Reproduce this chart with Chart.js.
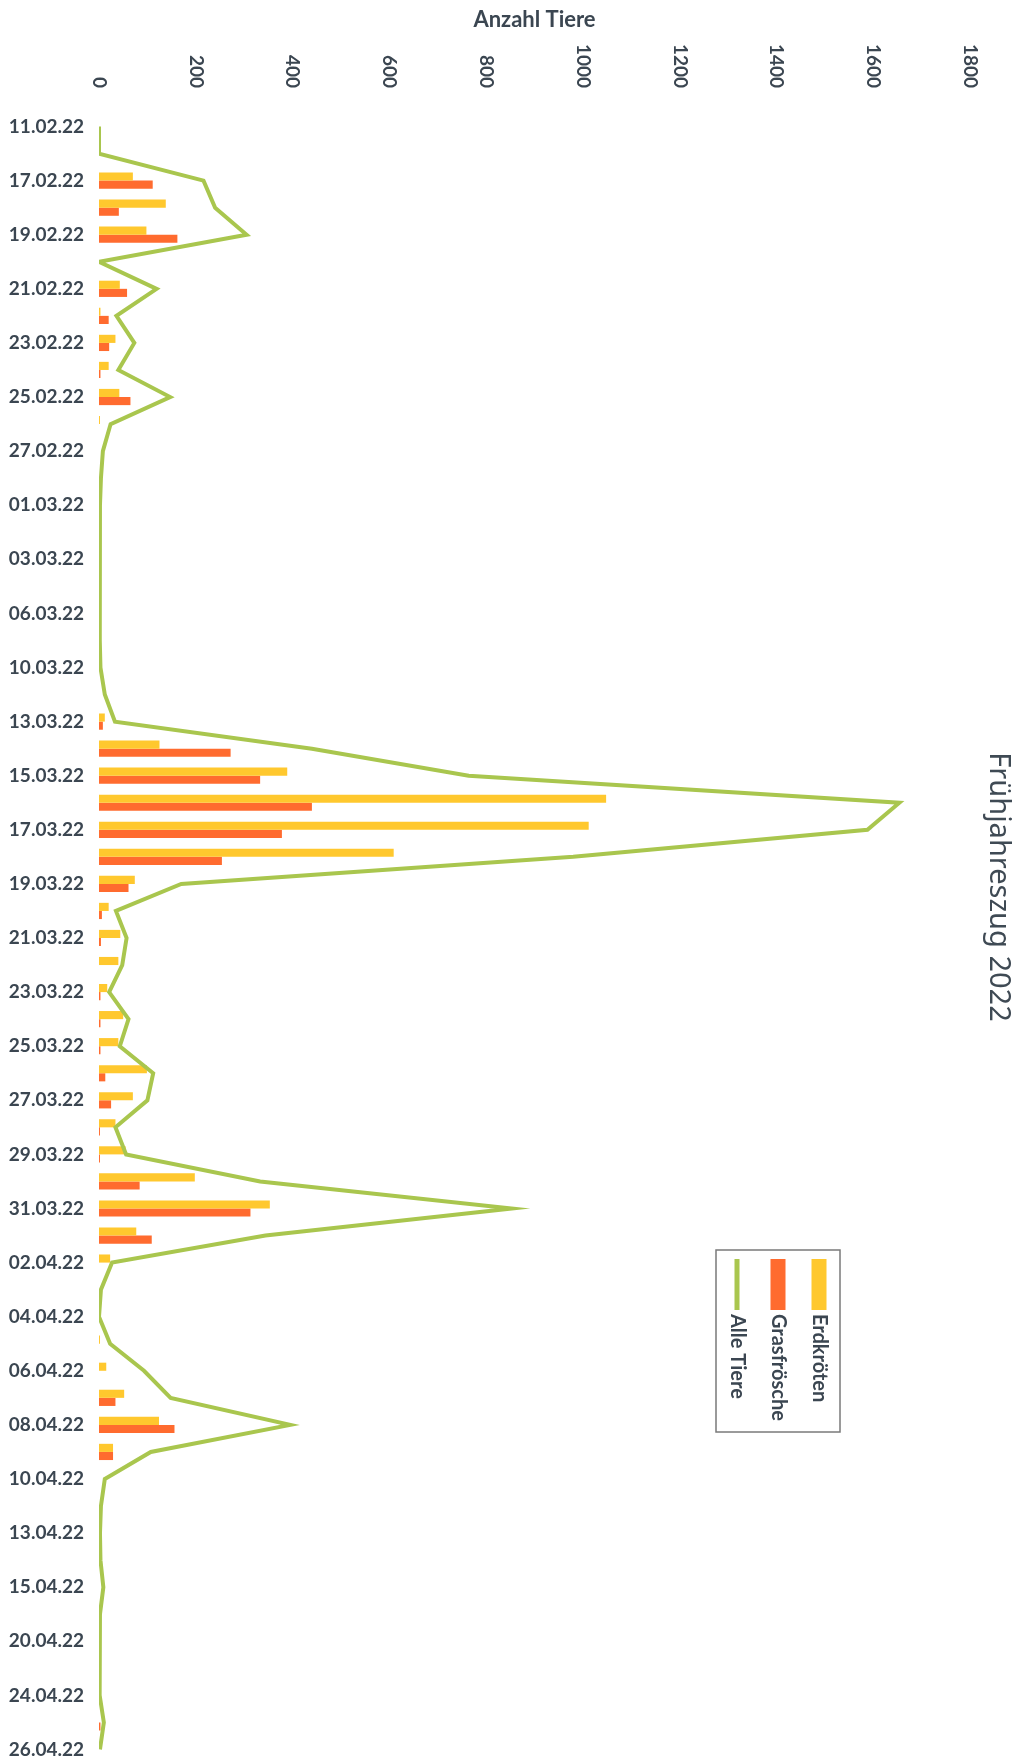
<!DOCTYPE html>
<html>
<head>
<meta charset="utf-8">
<title>Frühjahreszug 2022</title>
<script src="https://cdn.jsdelivr.net/npm/chart.js@4.4.0/dist/chart.umd.min.js"></script>
<style>
  html, body { margin: 0; padding: 0; background: #ffffff; }
  #wrap { width: 1028px; height: 1763px; position: relative; }
</style>
</head>
<body>
<div id="wrap"><canvas id="chart" width="1028" height="1763"></canvas></div>
<script>
// Zähltage der Amphibienwanderung 2022
const dates = [
  '11.02.22','16.02.22','17.02.22','18.02.22','19.02.22','20.02.22','21.02.22','22.02.22','23.02.22','24.02.22',
  '25.02.22','26.02.22','27.02.22','28.02.22','01.03.22','02.03.22','03.03.22','04.03.22','06.03.22','08.03.22',
  '10.03.22','12.03.22','13.03.22','14.03.22','15.03.22','16.03.22','17.03.22','18.03.22','19.03.22','20.03.22',
  '21.03.22','22.03.22','23.03.22','24.03.22','25.03.22','26.03.22','27.03.22','28.03.22','29.03.22','30.03.22',
  '31.03.22','01.04.22','02.04.22','03.04.22','04.04.22','05.04.22','06.04.22','07.04.22','08.04.22','09.04.22',
  '10.04.22','11.04.22','13.04.22','14.04.22','15.04.22','17.04.22','20.04.22','22.04.22','24.04.22','25.04.22',
  '26.04.22'
];

const erdkroeten = [
  0, 0, 70, 138, 98, 0, 43, 3, 34, 20,
  42, 2, 0, 0, 0, 0, 0, 0, 0, 0,
  0, 0, 12, 125, 389, 1048, 1012, 609, 74, 20,
  44, 40, 17, 50, 40, 99, 70, 34, 55, 198,
  353, 77, 23, 0, 0, 2, 15, 52, 124, 29,
  0, 0, 0, 0, 0, 0, 0, 0, 0, 0,
  0
];

const grasfroesche = [
  0, 0, 111, 41, 162, 0, 58, 20, 21, 3,
  65, 0, 0, 0, 0, 0, 0, 0, 0, 0,
  0, 0, 8, 272, 333, 440, 378, 254, 61, 6,
  4, 0, 3, 3, 3, 13, 25, 2, 2, 84,
  313, 109, 0, 0, 0, 0, 0, 34, 156, 29,
  0, 0, 0, 0, 0, 0, 0, 0, 0, 3,
  0
];

const alleTiere = [
  0, 0, 216, 240, 305, 0, 119, 36, 73, 40,
  147, 24, 8, 4, 2, 2, 2, 1, 1, 2,
  3, 12, 33, 440, 764, 1654, 1588, 980, 170, 35,
  57, 48, 21, 61, 43, 112, 100, 34, 56, 333,
  853, 344, 27, 4, 0, 23, 93, 148, 395, 107,
  12, 4, 2, 3, 9, 2, 1, 1, 2, 10,
  2
];

const seriesNames = ['Erdkröten', 'Grasfrösche', 'Alle Tiere'];
const chartTitle = 'Frühjahreszug 2022';
const axisTitle = 'Anzahl Tiere';

const YELLOW = '#FFC82E';
const ORANGE = '#FF6B2F';
const GREEN = '#A9C64E';
const TEXT = '#3b4651';

// Value-axis tick labels, turned a quarter turn clockwise
const rotatedTicks = {
  id: 'rotatedTicks',
  afterDraw(chart) {
    const scale = chart.scales.x;
    const ctx = chart.ctx;
    ctx.save();
    ctx.fillStyle = TEXT;
    ctx.font = 'bold 19px Lato';
    ctx.textAlign = 'right';
    ctx.textBaseline = 'middle';
    scale.ticks.forEach(t => {
      const x = scale.getPixelForValue(t.value);
      ctx.save();
      ctx.translate(x, 88);
      ctx.rotate(Math.PI / 2);
      ctx.fillText(String(t.value), 0, 0);
      ctx.restore();
    });
    ctx.restore();
  }
};

// Chart title along the right edge
const sideTitle = {
  id: 'sideTitle',
  afterDraw(chart) {
    const ctx = chart.ctx;
    ctx.save();
    ctx.fillStyle = '#3f4a54';
    ctx.font = '29px "Noto Sans"';
    ctx.textAlign = 'center';
    ctx.textBaseline = 'alphabetic';
    ctx.translate(990, 887);
    ctx.rotate(Math.PI / 2);
    ctx.fillText(chartTitle, 0, 0);
    ctx.restore();
  }
};

// Boxed legend, turned like the rest of the chart
const sideLegend = {
  id: 'sideLegend',
  afterDraw(chart) {
    const ctx = chart.ctx;
    const byName = name => chart.data.datasets.find(d => d.label === name);
    ctx.save();
    ctx.fillStyle = '#ffffff';
    ctx.fillRect(716, 1250, 124, 182);
    ctx.strokeStyle = '#7a7a7a';
    ctx.lineWidth = 1.5;
    ctx.strokeRect(716, 1250, 124, 182);

    const items = [
      { ds: byName(seriesNames[0]), cx: 819, w: 15 },
      { ds: byName(seriesNames[1]), cx: 778, w: 15 },
      { ds: byName(seriesNames[2]), cx: 737, w: 5 }
    ];
    items.forEach(it => {
      ctx.fillStyle = it.ds.type === 'line' ? it.ds.borderColor : it.ds.backgroundColor;
      ctx.fillRect(it.cx - it.w / 2, 1259, it.w, 51);
      ctx.save();
      ctx.fillStyle = TEXT;
      ctx.font = 'bold 20px Lato';
      ctx.textAlign = 'left';
      ctx.textBaseline = 'middle';
      ctx.translate(it.cx, 1314);
      ctx.rotate(Math.PI / 2);
      ctx.fillText(it.ds.label, 0, 0);
      ctx.restore();
    });
    ctx.restore();
  }
};

new Chart(document.getElementById('chart'), {
  type: 'bar',
  data: {
    labels: dates,
    datasets: [
      {
        type: 'line',
        label: seriesNames[2],
        data: alleTiere,
        indexAxis: 'y',
        borderColor: GREEN,
        backgroundColor: GREEN,
        borderWidth: 4,
        pointRadius: 0,
        tension: 0,
        fill: false,
        order: 0
      },
      {
        label: seriesNames[0],
        data: erdkroeten,
        backgroundColor: YELLOW,
        categoryPercentage: 0.6,
        barPercentage: 1.0,
        order: 1
      },
      {
        label: seriesNames[1],
        data: grasfroesche,
        backgroundColor: ORANGE,
        categoryPercentage: 0.6,
        barPercentage: 1.0,
        order: 1
      }
    ]
  },
  options: {
    indexAxis: 'y',
    responsive: false,
    animation: false,
    layout: { padding: { left: 0, right: 58, top: 0, bottom: 0 } },
    plugins: {
      legend: { display: false },
      title: { display: false },
      tooltip: { enabled: false }
    },
    scales: {
      x: {
        type: 'linear',
        position: 'top',
        min: 0,
        max: 1800,
        ticks: { stepSize: 200, display: false },
        grid: { display: false, drawTicks: false },
        border: { display: false },
        title: {
          display: true,
          text: axisTitle,
          color: TEXT,
          font: { family: 'Lato', weight: 'bold', size: 22 },
          padding: { top: 7, bottom: 0 }
        },
        afterFit(scale) { scale.height = 113; }
      },
      y: {
        type: 'category',
        offset: true,
        grid: { display: false, drawTicks: false },
        border: { display: false },
        ticks: {
          autoSkip: false,
          padding: 15,
          color: TEXT,
          font: { family: 'Lato', weight: 'bold', size: 19 },
          callback(value, index) {
            return index % 2 === 0 ? this.getLabelForValue(value) : '';
          }
        },
        afterFit(scale) {
          scale.width = 99;
          // the category rows run right to the lower edge of the canvas
          scale.paddingTop = 0;
          scale.paddingBottom = 0;
        }
      }
    }
  },
  plugins: [rotatedTicks, sideTitle, sideLegend]
});
</script>
</body>
</html>
